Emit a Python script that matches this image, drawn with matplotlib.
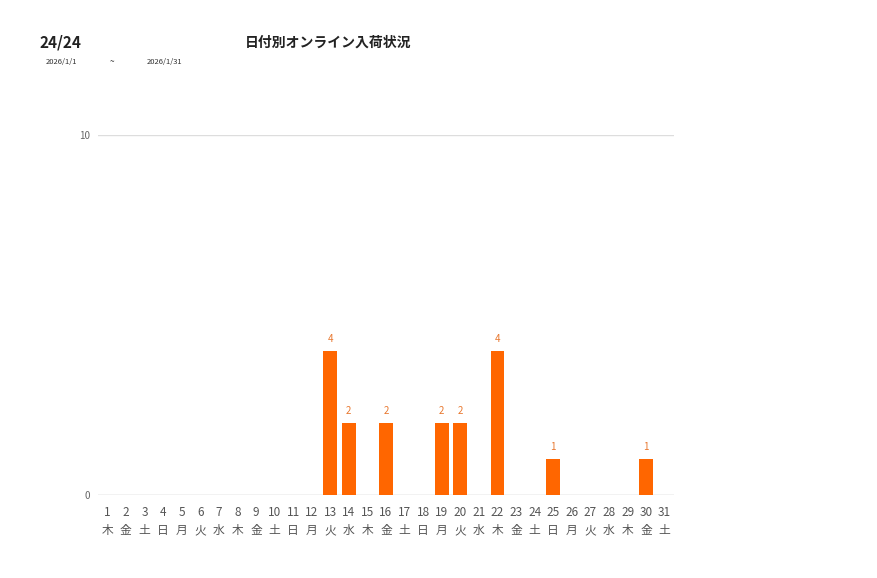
import matplotlib
matplotlib.use("Agg")
import matplotlib.pyplot as plt

plt.rcParams['font.family'] = ['Noto Sans CJK JP', 'DejaVu Sans']

days = [str(d) for d in range(1, 32)]
weekdays = ["木","金","土","日","月","火","水","木","金","土","日","月","火","水","木",
            "金","土","日","月","火","水","木","金","土","日","月","火","水","木","金","土"]
values = [0,0,0,0,0,0,0,0,0,0,0,0,4,2,0,2,0,0,2,2,0,4,0,0,1,0,0,0,0,1,0]

bar_color = "#FF6600"

fig = plt.figure(figsize=(8.77, 5.78), dpi=100)
ax = fig.add_axes([98/877, 83/578, (674-98)/877, (495-135)/578])

x = list(range(len(days)))
ax.bar(x, values, width=0.75, color=bar_color, zorder=3)
for xi, v in zip(x, values):
    if v > 0:
        ax.text(xi, v + 0.2, str(v), ha='center', va='bottom', fontsize=7, color="#E8772E")

ax.set_xlim(-0.5, len(days) - 0.5)
ax.set_ylim(0, 10)
ax.set_yticks([0, 10])
ax.set_yticklabels(["0", "10"], fontsize=7, color="#666666")
ax.yaxis.grid(True, color="#DDDDDD", linewidth=1, zorder=0)
ax.set_xticks(x)
ax.set_xticklabels([f"{d}\n{w}" for d, w in zip(days, weekdays)], fontsize=8.5,
                   color="#555555", linespacing=1.5)
ax.tick_params(axis='x', length=0, pad=8)
ax.tick_params(axis='y', length=0, pad=6)
for s in ax.spines.values():
    s.set_visible(False)
ax.axhline(0, color="#DDDDDD", linewidth=1, zorder=2)

fig.text(40/877, 1 - 43/578, "24/24", fontsize=11, fontweight='bold', va='center', ha='left', color="#222222")
fig.text(328/877, 1 - 43/578, "日付別オンライン入荷状況", fontsize=10, fontweight='bold', va='center', ha='center', color="#222222")
fig.text(46/877, 1 - 62/578, "2026/1/1", fontsize=5.5, va='center', ha='left', color="#333333")
fig.text(112/877, 1 - 62/578, "~", fontsize=6, va='center', ha='center', color="#333333")
fig.text(147/877, 1 - 62/578, "2026/1/31", fontsize=5.5, va='center', ha='left', color="#333333")

fig.savefig("out.png", dpi=100, facecolor="white")
